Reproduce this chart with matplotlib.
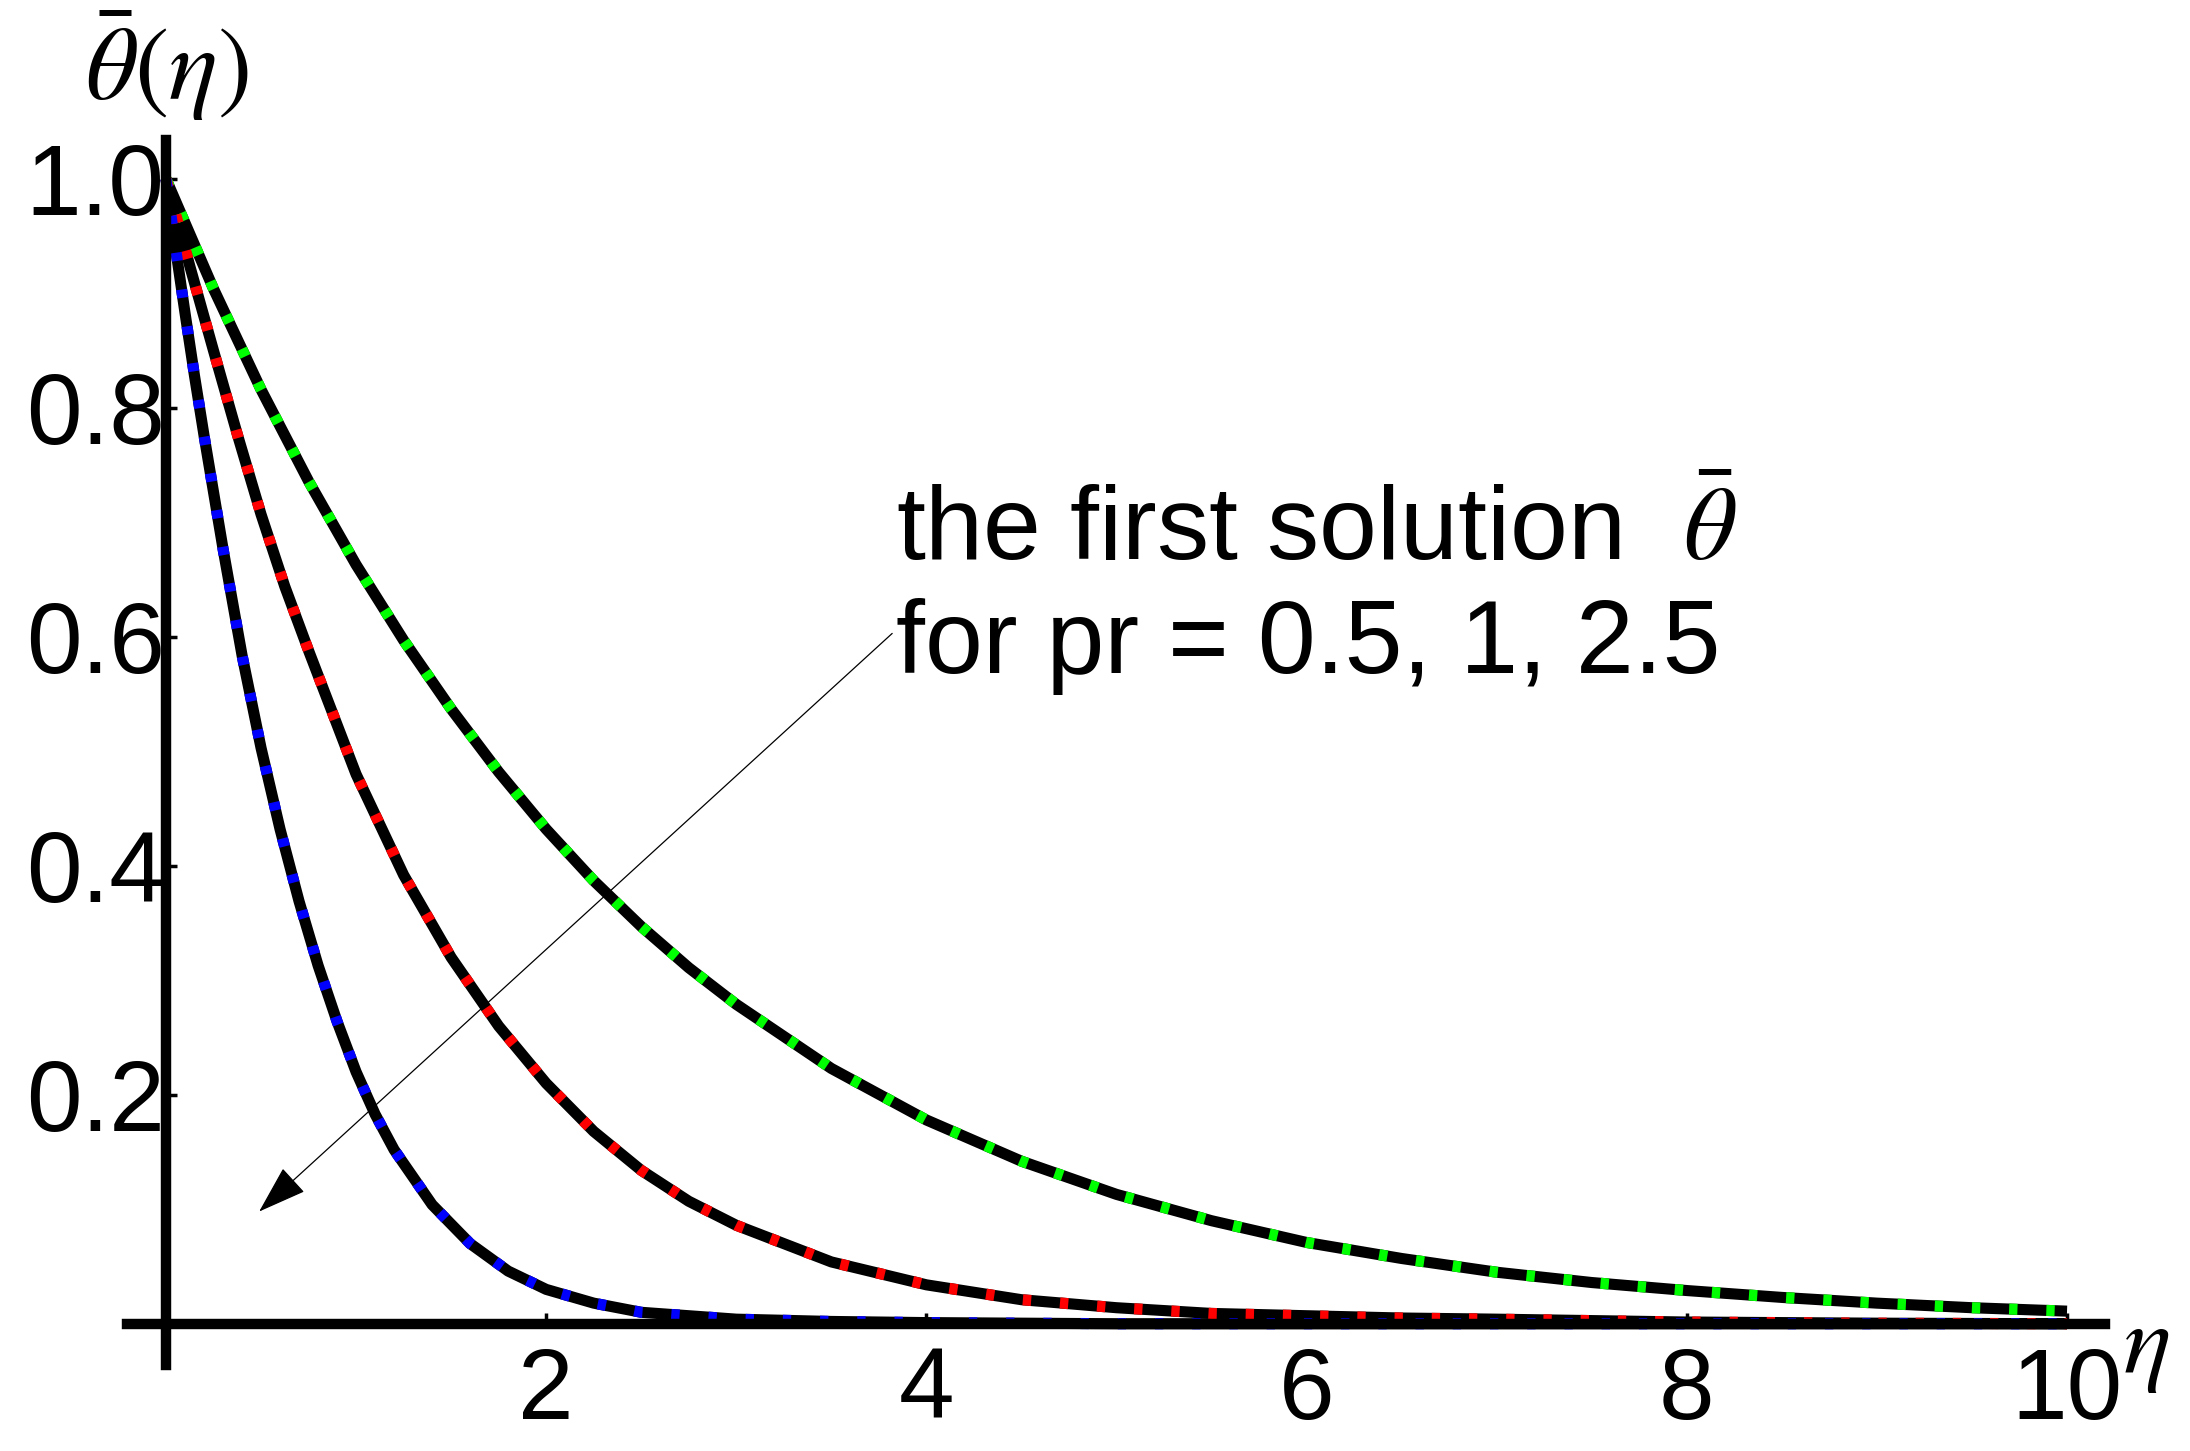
import matplotlib
matplotlib.use("Agg")
import matplotlib.pyplot as plt

plt.rcParams['font.family'] = ['Liberation Sans', 'DejaVu Sans']
plt.rcParams['mathtext.fontset'] = 'stix'

# theta values, pr = 0.5 (green)
eta_g = [0, 0.25, 0.5, 0.75, 1.0, 1.25, 1.5, 1.75, 2.0, 2.25, 2.5, 2.75, 3.0, 3.5,
         4.0, 4.5, 5.0, 5.5, 6.0, 6.5, 7.0, 7.5, 8.0, 8.5, 9.0, 9.5, 10.0]
theta_g = [1.0, 0.904, 0.816, 0.736, 0.663, 0.597, 0.537, 0.482, 0.432, 0.387, 0.347,
           0.311, 0.279, 0.223, 0.178, 0.142, 0.113, 0.090, 0.071, 0.057, 0.045,
           0.036, 0.029, 0.023, 0.018, 0.014, 0.011]

# pr = 1 (red)
eta_r = [0, 0.125, 0.25, 0.375, 0.5, 0.625, 0.75, 1.0, 1.25, 1.5, 1.75, 2.0, 2.25, 2.5,
         2.75, 3.0, 3.5, 4.0, 4.5, 5.0, 5.5, 6.0, 6.5, 7.0, 8.0, 9.0, 10.0]
theta_r = [1.0, 0.924, 0.850, 0.777, 0.707, 0.644, 0.588, 0.480, 0.392, 0.320, 0.260,
           0.210, 0.168, 0.134, 0.107, 0.086, 0.054, 0.034, 0.021, 0.014, 0.009,
           0.007, 0.005, 0.004, 0.0015, 0.0005, 0.0]

# pr = 2.5 (blue)
eta_b = [0, 0.05, 0.1, 0.15, 0.2, 0.3, 0.4, 0.5, 0.6, 0.7, 0.8, 0.9, 1.0, 1.1,
         1.2, 1.4, 1.6, 1.8, 2.0, 2.25, 2.5, 3.0, 3.5, 4.0, 5.0, 6.0, 8.0, 10.0]
theta_b = [1.0, 0.94, 0.883, 0.828, 0.776, 0.677, 0.584, 0.503, 0.432, 0.369, 0.313,
           0.264, 0.220, 0.183, 0.152, 0.104, 0.070, 0.046, 0.030, 0.018, 0.010,
           0.004, 0.002, 0.001, 0.0, 0.0, 0.0, 0.0]

series = [(eta_g, theta_g, '#00ff00'), (eta_r, theta_r, '#ff0000'), (eta_b, theta_b, '#0000ff')]

x_ticks = [2, 4, 6, 8, 10]
y_ticks = [0.2, 0.4, 0.6, 0.8, 1.0]
y_tick_labels = ['0.2', '0.4', '0.6', '0.8', '1.0']

note_line1 = r'the first solution  $\bar{\theta}$'
note_line2 = 'for pr = 0.5, 1, 2.5'
arrow_start = (3.82, 0.603)
arrow_tip = (0.49, 0.098)

fig = plt.figure(figsize=(21.9, 14.51), dpi=100)
ax = fig.add_axes([0.058, 0.0593, 0.9032, 0.8442])

lw = 8
for x, y, c in series:
    ax.plot(x, y, color='black', lw=lw, solid_capstyle='butt', solid_joinstyle='round',
            zorder=2, clip_on=False)
    ax.plot(x, y, color=c, lw=lw, linestyle=(0, (0.75, 2.6)), dash_capstyle='butt',
            zorder=2.1, clip_on=False)

ax.set_xlim(-0.205, 10.2)
ax.set_ylim(-0.036, 1.034)

for s in ['top', 'right']:
    ax.spines[s].set_visible(False)
ax.spines['left'].set_position(('data', 0))
ax.spines['bottom'].set_position(('data', 0))
ax.spines['left'].set_linewidth(7.5)
ax.spines['bottom'].set_linewidth(7.5)

ax.set_xticks(x_ticks)
ax.set_xticklabels([str(t) for t in x_ticks])
ax.set_yticks(y_ticks)
ax.set_yticklabels(y_tick_labels)
ax.tick_params(axis='both', direction='in', length=8, width=2.5, labelsize=72)
ax.tick_params(axis='x', pad=16)
ax.tick_params(axis='y', pad=1)

ax.text(arrow_start[0] + 0.02, 0.667, note_line1, fontsize=75, va='baseline', ha='left')
ax.text(arrow_start[0] + 0.02, 0.568, note_line2, fontsize=75, va='baseline', ha='left')
ax.annotate('', xy=arrow_tip, xytext=arrow_start,
            arrowprops=dict(arrowstyle='-|>,head_length=0.45,head_width=0.15',
                            mutation_scale=70, lw=0.9, color='black',
                            shrinkA=0, shrinkB=0))

fig.text(0.076, 0.931, r'$\bar{\theta}(\eta)$', fontsize=74, ha='center', va='baseline')
fig.text(0.980, 0.071, r'$\eta$', fontsize=72, ha='center', va='center')

fig.savefig('out.png', dpi=100, facecolor='white')
